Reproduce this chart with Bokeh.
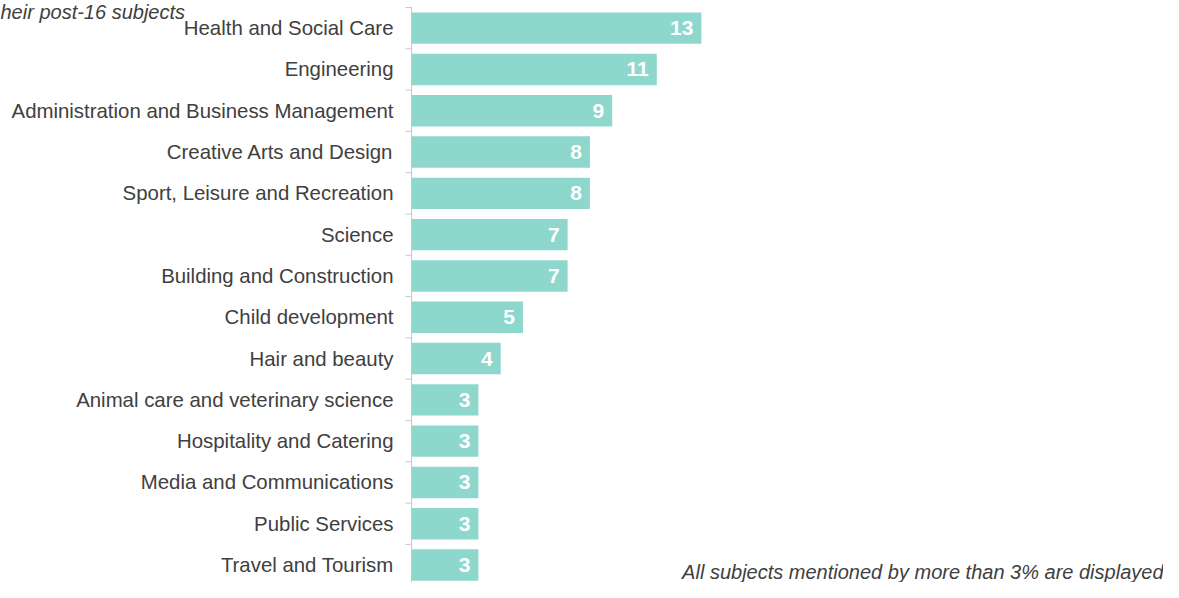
from bokeh.plotting import figure
from bokeh.models import Range1d, Label, ColumnDataSource
from bokeh.core.properties import value
from bokeh.embed import file_html
from bokeh.resources import INLINE

subjects = [
    "Health and Social Care",
    "Engineering",
    "Administration and Business Management",
    "Creative Arts and Design",
    "Sport, Leisure and Recreation",
    "Science",
    "Building and Construction",
    "Child development",
    "Hair and beauty",
    "Animal care and veterinary science",
    "Hospitality and Catering",
    "Media and Communications",
    "Public Services",
    "Travel and Tourism",
]
percents = [13, 11, 9, 8, 8, 7, 7, 5, 4, 3, 3, 3, 3, 3]
title_text = "heir post-16 subjects"
note_text = "All subjects mentioned by more than 3% are displayed"

W, H = 1163, 582
AXIS_PX = 411          # screen x of the value axis (value 0)
PPU_X = 22.3           # pixels per percentage point
TOP_PX = 7             # screen y of the top of the first category band
PPU_Y = 41.3           # pixels per category band

X_START = -AXIS_PX / PPU_X
X_END = (W - AXIS_PX) / PPU_X
Y_TOP = -0.5 - TOP_PX / PPU_Y
Y_BOTTOM = -0.5 + (H - TOP_PX) / PPU_Y

n = len(subjects)
pos = list(range(n))
src = ColumnDataSource(dict(y=pos, v=percents, lab=[str(v) for v in percents],
                            name=subjects, zero=[0] * n))
bounds = [i - 0.5 for i in range(n + 1)]
tick_src = ColumnDataSource(dict(y=bounds, x0=[-6 / PPU_X] * len(bounds), x1=[0] * len(bounds)))

p = figure(width=W, height=H, output_backend="svg", toolbar_location=None,
           x_range=Range1d(X_START, X_END), y_range=Range1d(Y_BOTTOM, Y_TOP),
           min_border_left=0, min_border_right=0, min_border_top=0, min_border_bottom=0)
p.outline_line_color = None
p.xgrid.visible = False
p.ygrid.visible = False
p.xaxis.visible = False
p.yaxis.visible = False
p.background_fill_color = "white"
p.border_fill_color = "white"

# bars
p.hbar(y="y", left=0, right="v", height=0.76, source=src,
       fill_color="#8ED7CD", line_color=None)

# category axis (line, ticks at band boundaries, labels)
p.segment(x0=0, y0=-0.5, x1=0, y1=Y_BOTTOM, line_color="#c8c8c8", line_width=1)
p.segment(x0="x0", y0="y", x1="x1", y1="y", source=tick_src, line_color="#c8c8c8", line_width=1)
p.text(x="zero", y="y", text="name", source=src, x_offset=-18,
       text_align="right", text_baseline="middle", text_color="#404040",
       text_font=value("Liberation Sans"), text_font_size="20.4px")

# value labels
p.text(x="v", y="y", text="lab", source=src, x_offset=-8,
       text_align="right", text_baseline="middle", text_color="white",
       text_font=value("Liberation Sans"), text_font_style="bold", text_font_size="21px")

p.add_layout(Label(x=X_START, y=Y_TOP, text=title_text,
                   text_font="Liberation Sans", text_font_style="italic",
                   text_font_size="20px", text_color="#404040",
                   text_align="left", text_baseline="top", y_offset=0))
p.add_layout(Label(x=X_END, y=Y_BOTTOM, text=note_text,
                   text_font="Liberation Sans", text_font_style="italic",
                   text_font_size="20px", text_color="#404040",
                   text_align="right", text_baseline="bottom", y_offset=0))

open("out.html", "w").write(file_html(p, INLINE))
